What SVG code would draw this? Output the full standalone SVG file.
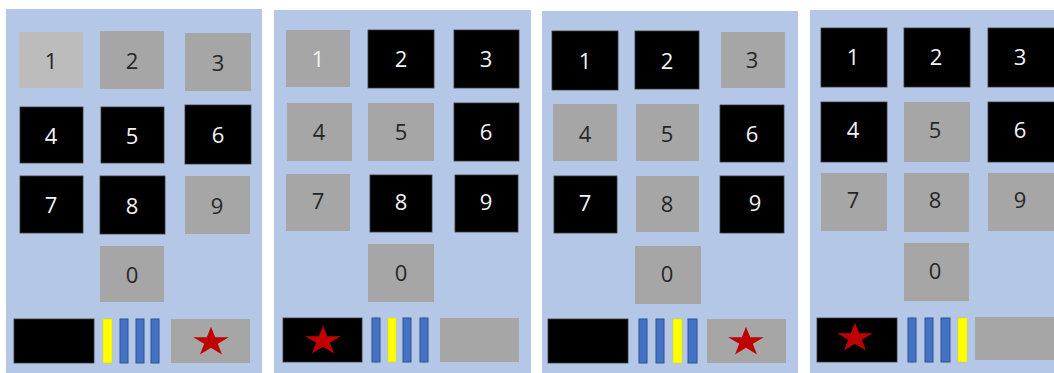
<svg xmlns="http://www.w3.org/2000/svg" width="1054" height="373" viewBox="0 0 1054 373">
<style>
.bg{fill:#b4c7e7}
.g{fill:#a6a6a6}
.lg{fill:#bcbcbc}
.k{fill:#000000;stroke:#3a3a3a;stroke-width:0.8}
.t{font-family:"Open Sans","Liberation Sans",sans-serif;font-size:22px;text-anchor:middle;dominant-baseline:central}
.dk{fill:#262626}
.wt{fill:#f4f4f4}
.bl{fill:#4472c4;stroke:#2f528f;stroke-width:1}
.ye{fill:#ffff00;stroke:#d8d800;stroke-width:0.5}
.star{fill:#c00000}
</style>
<defs>
<path id="star" d="M0,-17 L3.82,-5.26 L16.17,-5.25 L6.18,2.01 L9.99,13.75 L0,6.5 L-9.99,13.75 L-6.18,2.01 L-16.17,-5.25 L-3.82,-5.26 Z"/>
</defs>
<rect x="0" y="0" width="1054" height="373" fill="#ffffff"/>

<g id="panel1">
<rect class="bg" x="6" y="9" width="256" height="364"/>
<g id="p1-k1"><rect class="lg" x="19" y="32" width="64" height="56"/><text class="t dk" x="51" y="60">1</text></g>
<g id="p1-k2"><rect class="g" x="100" y="31" width="64" height="58"/><text class="t dk" x="132" y="60">2</text></g>
<g id="p1-k3"><rect class="g" x="185" y="33" width="66" height="58"/><text class="t dk" x="218" y="62">3</text></g>
<g id="p1-k4"><rect class="k" x="20" y="107" width="63" height="56"/><text class="t wt" x="51" y="135">4</text></g>
<g id="p1-k5"><rect class="k" x="101" y="107" width="63" height="56"/><text class="t wt" x="132" y="135">5</text></g>
<g id="p1-k6"><rect class="k" x="185" y="105" width="66" height="59"/><text class="t wt" x="218" y="134">6</text></g>
<g id="p1-k7"><rect class="k" x="20" y="176" width="63" height="57"/><text class="t wt" x="51" y="204">7</text></g>
<g id="p1-k8"><rect class="k" x="100" y="176" width="65" height="58"/><text class="t wt" x="132" y="205">8</text></g>
<g id="p1-k9"><rect class="g" x="185" y="176" width="65" height="58"/><text class="t dk" x="217" y="205">9</text></g>
<g id="p1-k0"><rect class="g" x="100" y="246" width="64" height="56"/><text class="t dk" x="132" y="274">0</text></g>
<g id="p1-left"><rect class="k" x="14" y="319" width="80" height="44"/></g>
<g id="p1-bars">
<rect class="ye" x="103" y="319" width="9" height="44"/>
<rect class="bl" x="120" y="319" width="8" height="44"/>
<rect class="bl" x="136" y="319" width="8" height="44"/>
<rect class="bl" x="151" y="319" width="8" height="44"/>
</g>
<g id="p1-right"><rect class="g" x="171" y="319" width="79" height="44"/><use href="#star" class="star" transform="translate(211,342) scale(1.1,0.9)"/></g>
</g>

<g id="panel2">
<rect class="bg" x="274" y="10" width="257" height="363"/>
<g id="p2-k1"><rect class="g" x="286" y="30" width="64" height="57"/><text class="t wt" x="318" y="58">1</text></g>
<g id="p2-k2"><rect class="k" x="368" y="30" width="66" height="58"/><text class="t wt" x="401" y="58">2</text></g>
<g id="p2-k3"><rect class="k" x="454" y="30" width="65" height="58"/><text class="t wt" x="486" y="58">3</text></g>
<g id="p2-k4"><rect class="g" x="287" y="103" width="65" height="58"/><text class="t dk" x="319" y="131">4</text></g>
<g id="p2-k5"><rect class="g" x="368" y="103" width="66" height="58"/><text class="t dk" x="401" y="131">5</text></g>
<g id="p2-k6"><rect class="k" x="454" y="103" width="65" height="58"/><text class="t wt" x="486" y="131">6</text></g>
<g id="p2-k7"><rect class="g" x="286" y="174" width="64" height="57"/><text class="t dk" x="318" y="200">7</text></g>
<g id="p2-k8"><rect class="k" x="370" y="175" width="62" height="57"/><text class="t wt" x="401" y="201">8</text></g>
<g id="p2-k9"><rect class="k" x="455" y="175" width="63" height="57"/><text class="t wt" x="486" y="201">9</text></g>
<g id="p2-k0"><rect class="g" x="368" y="244" width="66" height="58"/><text class="t dk" x="401" y="272">0</text></g>
<g id="p2-left"><rect class="k" x="283" y="318" width="79" height="44"/><use href="#star" class="star" transform="translate(323,341) scale(1.1,0.9)"/></g>
<g id="p2-bars">
<rect class="bl" x="372" y="318" width="8" height="44"/>
<rect class="ye" x="388" y="318" width="8" height="44"/>
<rect class="bl" x="403" y="318" width="8" height="44"/>
<rect class="bl" x="420" y="318" width="8" height="44"/>
</g>
<g id="p2-right"><rect class="g" x="440" y="318" width="79" height="44"/></g>
</g>

<g id="panel3">
<rect class="bg" x="542" y="11" width="256" height="362"/>
<g id="p3-k1"><rect class="k" x="552" y="31" width="66" height="59"/><text class="t wt" x="585" y="60">1</text></g>
<g id="p3-k2"><rect class="k" x="635" y="31" width="64" height="58"/><text class="t wt" x="667" y="60">2</text></g>
<g id="p3-k3"><rect class="g" x="721" y="32" width="64" height="56"/><text class="t dk" x="752" y="59">3</text></g>
<g id="p3-k4"><rect class="g" x="553" y="104" width="64" height="57"/><text class="t dk" x="585" y="133">4</text></g>
<g id="p3-k5"><rect class="g" x="636" y="104" width="63" height="57"/><text class="t dk" x="667" y="133">5</text></g>
<g id="p3-k6"><rect class="k" x="720" y="105" width="64" height="57"/><text class="t wt" x="752" y="133">6</text></g>
<g id="p3-k7"><rect class="k" x="554" y="176" width="63" height="57"/><text class="t wt" x="585" y="202">7</text></g>
<g id="p3-k8"><rect class="g" x="636" y="176" width="63" height="56"/><text class="t dk" x="667" y="203">8</text></g>
<g id="p3-k9"><rect class="k" x="720" y="176" width="64" height="57"/><text class="t wt" x="755" y="202">9</text></g>
<g id="p3-k0"><rect class="g" x="635" y="246" width="66" height="58"/><text class="t dk" x="667" y="273">0</text></g>
<g id="p3-left"><rect class="k" x="548" y="319" width="80" height="44"/></g>
<g id="p3-bars">
<rect class="bl" x="639" y="319" width="8" height="44"/>
<rect class="bl" x="656" y="319" width="8" height="44"/>
<rect class="ye" x="673" y="319" width="9" height="44"/>
<rect class="bl" x="688" y="319" width="9" height="44"/>
</g>
<g id="p3-right"><rect class="g" x="707" y="319" width="79" height="44"/><use href="#star" class="star" transform="translate(746,342) scale(1.1,0.9)"/></g>
</g>

<g id="panel4">
<rect class="bg" x="810" y="10" width="244" height="363"/>
<g id="p4-k1"><rect class="k" x="821" y="28" width="66" height="59"/><text class="t wt" x="853" y="56">1</text></g>
<g id="p4-k2"><rect class="k" x="904" y="28" width="66" height="59"/><text class="t wt" x="936" y="56">2</text></g>
<g id="p4-k3"><rect class="k" x="988" y="28" width="70" height="59"/><text class="t wt" x="1020" y="56">3</text></g>
<g id="p4-k4"><rect class="k" x="821" y="102" width="66" height="60"/><text class="t wt" x="853" y="129">4</text></g>
<g id="p4-k5"><rect class="g" x="904" y="102" width="66" height="60"/><text class="t dk" x="935" y="129">5</text></g>
<g id="p4-k6"><rect class="k" x="988" y="102" width="70" height="60"/><text class="t wt" x="1020" y="129">6</text></g>
<g id="p4-k7"><rect class="g" x="821" y="173" width="66" height="58"/><text class="t dk" x="853" y="199">7</text></g>
<g id="p4-k8"><rect class="g" x="904" y="173" width="65" height="59"/><text class="t dk" x="935" y="199">8</text></g>
<g id="p4-k9"><rect class="g" x="988" y="173" width="70" height="58"/><text class="t dk" x="1020" y="199">9</text></g>
<g id="p4-k0"><rect class="g" x="904" y="243" width="65" height="58"/><text class="t dk" x="935" y="270">0</text></g>
<g id="p4-left"><rect class="k" x="817" y="318" width="80" height="44"/><use href="#star" class="star" transform="translate(855,338) scale(1.1,0.9)"/></g>
<g id="p4-bars">
<rect class="bl" x="908" y="318" width="8" height="44"/>
<rect class="bl" x="925" y="318" width="8" height="44"/>
<rect class="bl" x="941" y="318" width="9" height="44"/>
<rect class="ye" x="958" y="318" width="9" height="44"/>
</g>
<g id="p4-right"><rect class="g" x="975" y="317" width="83" height="43"/></g>
</g>
</svg>
